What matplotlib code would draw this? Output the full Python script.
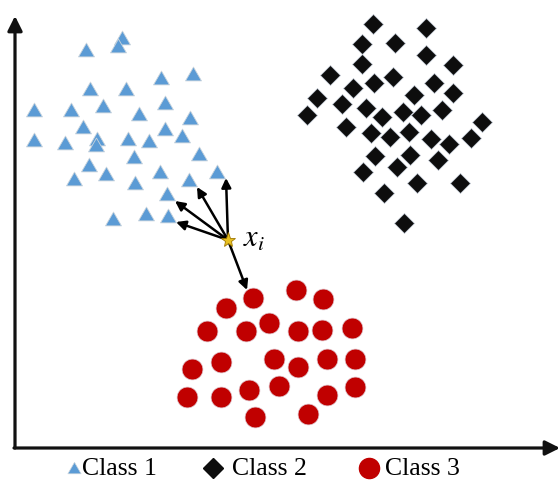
import matplotlib
matplotlib.use("Agg")
import matplotlib.pyplot as plt
from matplotlib.path import Path

plt.rcParams['font.family'] = ['Liberation Serif', 'DejaVu Serif']
plt.rcParams['mathtext.fontset'] = 'stix'

# Class 1 (triangles) - positions in picture units (x right, y down)
c1_x = [122, 118, 86, 161, 193, 90, 126, 34, 71, 103, 165, 139, 83, 190, 165, 182,
        34, 65, 97, 96, 128, 149, 134, 199, 89, 106, 160, 217, 74, 135, 189, 167,
        113, 146, 168]
c1_y = [38, 46, 50, 78, 74, 89, 89, 110, 110, 106, 103, 114, 127, 118, 129, 136,
        140, 143, 139, 145, 139, 141, 157, 154, 165, 174, 172, 172, 179, 183, 180, 194,
        219, 214, 216]

# Class 2 (diamonds)
c2_x = [373, 426, 362, 395, 426, 362, 453, 330, 374, 393, 353, 434, 317, 342, 366, 414,
        453, 307, 382, 403, 421, 442, 346, 371, 390, 409, 482, 431, 449, 471, 375, 410,
        438, 363, 397, 417, 460, 384, 404]
c2_y = [24, 28, 44, 43, 55, 64, 65, 75, 83, 77, 88, 83, 98, 104, 108, 95,
        93, 115, 117, 112, 115, 110, 127, 133, 137, 132, 122, 139, 144, 138, 156, 155,
        160, 172, 167, 183, 183, 193, 223]

# Class 3 (circles)
c3_x = [253, 296, 323, 226, 207, 246, 269, 298, 322, 352, 221, 192, 274, 298, 327, 355,
        187, 221, 249, 279, 327, 355, 255, 308]
c3_y = [298, 290, 299, 308, 331, 331, 323, 331, 330, 328, 362, 369, 359, 367, 359, 359,
        397, 397, 390, 386, 395, 387, 417, 414]

# query point and its neighbours
xi = (228, 240)
nb_x = [226, 197, 175, 176, 247]
nb_y = [178, 187, 201, 222, 290]

labels = ['Class 1', 'Class 2', 'Class 3']
blue = '#5B9BD5'
dark = '#0D0D0D'
red = '#C00000'

tri = Path([(-1, -0.8), (1, -0.8), (0, 0.93), (-1, -0.8)],
           [Path.MOVETO, Path.LINETO, Path.LINETO, Path.CLOSEPOLY])

fig = plt.figure(figsize=(5.6, 4.8), dpi=100)
ax = fig.add_axes([0, 0, 1, 1])
ax.set_xlim(0, 560)
ax.set_ylim(480, 0)
ax.axis('off')

# axes arrows
ax.annotate('', xy=(15, 16), xytext=(15, 448), annotation_clip=False,
            arrowprops=dict(arrowstyle='-|>', lw=2.3, color='#111111',
                            mutation_scale=22, shrinkA=0, shrinkB=0))
ax.annotate('', xy=(560, 448), xytext=(14, 448), annotation_clip=False,
            arrowprops=dict(arrowstyle='-|>', lw=2.3, color='#111111',
                            mutation_scale=22, shrinkA=0, shrinkB=0))

ax.plot(c1_x, c1_y, linestyle='none', marker=tri, markersize=11.5,
        markerfacecolor=blue, markeredgecolor='#c8d3dc', markeredgewidth=0.6)
ax.plot(c2_x, c2_y, linestyle='none', marker='D', markersize=10,
        markerfacecolor=dark, markeredgecolor='#c5cdd8', markeredgewidth=0.5)
ax.plot(c3_x, c3_y, linestyle='none', marker='o', markersize=15,
        markerfacecolor=red, markeredgecolor='#e0c8d0', markeredgewidth=0.5)

for nx, ny in zip(nb_x, nb_y):
    ax.annotate('', xy=(nx, ny), xytext=xi,
                arrowprops=dict(arrowstyle='-|>', lw=1.8, color='black',
                                mutation_scale=14, shrinkA=0, shrinkB=0))

ax.plot([xi[0]], [xi[1]], linestyle='none', marker='*', markersize=11,
        markerfacecolor='#E8C020', markeredgecolor='#A07800', markeredgewidth=0.6, zorder=5)
ax.text(243, 239, r'$x_i$', fontsize=22, ha='left', va='center')

# legend (manual layout)
leg_marker_x = [74, 213, 369]
leg_text_x = [82, 232, 385]
leg_y = 468
leg_base = 475
leg_styles = [
    dict(marker=tri, markersize=9.5, markerfacecolor=blue, markeredgecolor='#c8d3dc', markeredgewidth=0.5),
    dict(marker='D', markersize=10, markerfacecolor=dark, markeredgecolor=dark),
    dict(marker='o', markersize=14.5, markerfacecolor=red, markeredgecolor=red),
]
for mx, tx, lab, st in zip(leg_marker_x, leg_text_x, labels, leg_styles):
    ax.plot([mx], [leg_y], linestyle='none', clip_on=False, **st)
    ax.text(tx, leg_base, lab, fontsize=18.5, ha='left', va='baseline')

fig.savefig('out.png', dpi=100)
